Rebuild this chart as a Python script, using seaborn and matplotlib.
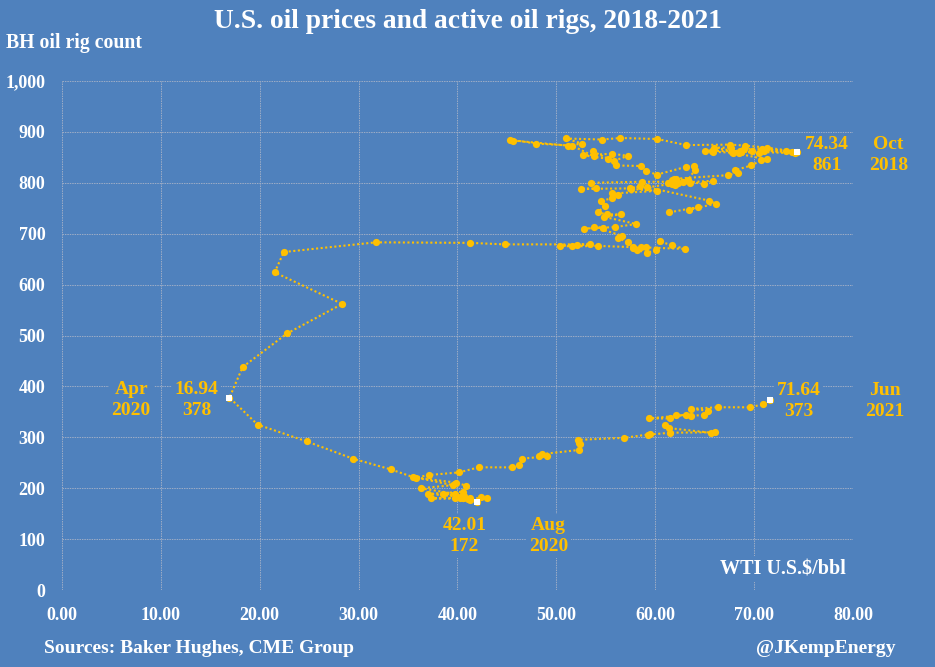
import matplotlib
matplotlib.use("Agg")
import matplotlib.pyplot as plt
import seaborn as sns
import pandas as pd

# weekly WTI front-month price ($/bbl), Jan 2018 - Jun 2021
wti = [
    61.44, 64.30, 63.37, 66.14, 65.45, 59.20, 61.68, 63.55, 61.25, 62.04,
    62.34, 65.88, 64.94, 62.06, 67.39, 68.38, 68.10, 69.72, 70.70, 71.28,
    67.88, 65.81, 65.74, 65.06, 68.58, 74.15, 73.80, 71.01, 70.46, 68.69,
    68.49, 67.63, 65.91, 68.72, 69.80, 67.75, 68.99, 70.78, 73.25, 74.34,
    71.34, 69.12, 67.59, 63.14, 60.19, 56.46, 54.63, 50.93, 52.61, 51.20,
    45.59, 45.33,
    47.96, 51.59, 53.80, 53.69, 55.26, 52.72, 55.59, 57.26, 55.80, 56.07,
    58.52, 59.04, 60.14, 63.08, 63.89, 64.00, 63.30, 61.94, 61.66, 62.76,
    58.63, 53.50, 53.99, 52.51, 57.43, 58.47, 57.51, 60.21, 55.63, 56.20,
    55.66, 54.50, 54.87, 54.17, 55.10, 56.52, 54.85, 58.09, 55.91, 52.81,
    54.70, 53.78, 56.66, 56.20, 57.24, 57.72, 57.77, 58.11, 59.20, 60.07,
    60.44, 61.72,
    63.05, 59.04, 58.54, 54.19, 51.56, 50.32, 52.05, 53.38, 44.76, 41.28,
    31.73, 22.43, 21.51, 28.34, 22.76, 18.27, 16.94, 19.78, 24.74, 29.43,
    33.25, 35.49, 39.55, 36.26, 39.75, 38.49, 40.65, 40.55, 40.59, 41.29,
    40.27, 41.22, 42.01, 42.34, 42.97, 39.77, 37.33, 41.11, 40.25, 37.05,
    40.60, 40.88, 39.85, 35.79, 37.14, 40.13, 42.15, 45.53, 46.26, 46.57,
    49.10, 48.23, 48.52,
    52.24, 52.36, 52.27, 52.20, 56.85, 59.47, 59.24, 61.50, 66.09, 65.61,
    61.42, 60.97, 61.45, 59.32, 63.13, 62.14, 63.58, 64.90, 65.37, 63.58,
    66.32, 69.62, 70.91, 71.64,
]

# Baker Hughes U.S. oil rig count, same weeks
rigs = [
    742, 752, 747, 759, 765, 791, 798, 799, 800, 796,
    800, 804, 797, 808, 815, 820, 825, 834, 844, 846,
    859, 861, 862, 863, 862, 858, 860, 863, 858, 861,
    859, 869, 869, 860, 862, 860, 867, 866, 863, 861,
    869, 873, 875, 874, 886, 888, 885, 887, 877, 873,
    883, 885,
    877, 873, 852, 862, 847, 854, 857, 853, 843, 834,
    833, 824, 816, 831, 833, 825, 805, 807, 805, 802,
    802, 800, 789, 788, 789, 793, 788, 784, 779, 776,
    770, 764, 754, 742, 738, 738, 733, 719, 713, 710,
    712, 713, 696, 691, 684, 674, 671, 668, 663, 667,
    685, 677,
    670, 673, 673, 676, 675, 676, 678, 679, 679, 682,
    683, 664, 624, 562, 504, 438, 378, 325, 292, 258,
    237, 222, 206, 200, 189, 188, 185, 181, 180, 181,
    180, 176, 172, 183, 180, 181, 180, 179, 183, 189,
    193, 205, 211, 221, 226, 231, 241, 241, 246, 258,
    263, 264, 267,
    275, 287, 289, 295, 299, 306, 305, 309, 310, 309,
    318, 324, 337, 337, 344, 343, 342, 344, 352, 356,
    359, 359, 365, 373,
]

# highlighted weeks: (price, rigs, month, year)
callouts = [
    (74.34, 861, "Oct", "2018"),
    (16.94, 378, "Apr", "2020"),
    (42.01, 172, "Aug", "2020"),
    (71.64, 373, "Jun", "2021"),
]

bg = "#4f81bd"
gold = "#ffc000"
grid_col = "#9eadc6"

sns.set_style("white")
plt.rcParams["font.family"] = ["Liberation Serif", "DejaVu Serif"]
plt.rcParams["font.weight"] = "bold"

df = pd.DataFrame({"wti": wti, "rigs": rigs})

fig = plt.figure(figsize=(9.35, 6.67), dpi=100, facecolor=bg)
ax = fig.add_axes([0.0663, 0.1154, 0.8460, 0.7632])
ax.set_facecolor(bg)

sns.lineplot(data=df, x="wti", y="rigs", sort=False, estimator=None, ax=ax,
             color=gold, linestyle=(0, (1, 1.2)), linewidth=1.5,
             marker="o", markersize=5.2, markeredgewidth=0,
             markerfacecolor=gold, zorder=3)

hl = pd.DataFrame({"wti": [c[0] for c in callouts], "rigs": [c[1] for c in callouts]})
sns.scatterplot(data=hl, x="wti", y="rigs", ax=ax, color="white", marker="s",
                s=14, linewidth=0, zorder=4)

ax.set_xlim(0, 80)
ax.set_ylim(0, 1000)
ax.set_xticks(range(0, 81, 10))
ax.set_yticks(range(0, 1001, 100))
ax.set_xticklabels([f"{v:.2f}" for v in range(0, 81, 10)])
ax.set_yticklabels([f"{v:,}" for v in range(0, 1001, 100)])
ax.tick_params(length=0, labelsize=13, labelcolor="white", pad=12)
for lab in ax.get_xticklabels() + ax.get_yticklabels():
    lab.set_fontweight("bold")
ax.grid(True, color=grid_col, linestyle=(0, (1.5, 1)), linewidth=0.7)
ax.set_axisbelow(True)
for s in ax.spines.values():
    s.set_visible(False)
ax.set_xlabel("")
ax.set_ylabel("")

box = dict(facecolor=bg, edgecolor="none", pad=2)
lab_kw = dict(color=gold, fontsize=14, fontweight="bold", ha="center",
              va="center", linespacing=1.3, bbox=box, zorder=5)

# Oct 2018
ax.text(77.4, 854, "74.34\n861", **lab_kw)
ax.text(83.6, 854, "Oct\n2018", clip_on=False, **lab_kw)
# Apr 2020
ax.text(13.6, 374, "16.94\n378", **lab_kw)
ax.text(7.0, 374, "Apr\n2020", **lab_kw)
# Aug 2020
ax.text(40.7, 106, "42.01\n172", **lab_kw)
ax.text(49.2, 106, "Aug\n2020", **lab_kw)
# Jun 2021
ax.text(74.5, 372, "71.64\n373", **lab_kw)
ax.text(83.2, 372, "Jun\n2021", clip_on=False, **lab_kw)

ax.text(79.3, 41, "WTI U.S.$/bbl", color="white", fontsize=14.5, fontweight="bold",
        ha="right", va="center", bbox=box, zorder=5)

fig.text(0.5, 0.968, "U.S. oil prices and active oil rigs, 2018-2021", color="white",
         fontsize=19.8, fontweight="bold", ha="center", va="center")
fig.text(0.006, 0.935, "BH oil rig count", color="white", fontsize=14.2,
         fontweight="bold", ha="left", va="center")
fig.text(0.047, 0.027, "Sources: Baker Hughes, CME Group", color="white",
         fontsize=14, fontweight="bold", ha="left", va="center")
fig.text(0.958, 0.027, "@JKempEnergy", color="white", fontsize=14,
         fontweight="bold", ha="right", va="center")

fig.savefig("out.png", dpi=100, facecolor=bg)
